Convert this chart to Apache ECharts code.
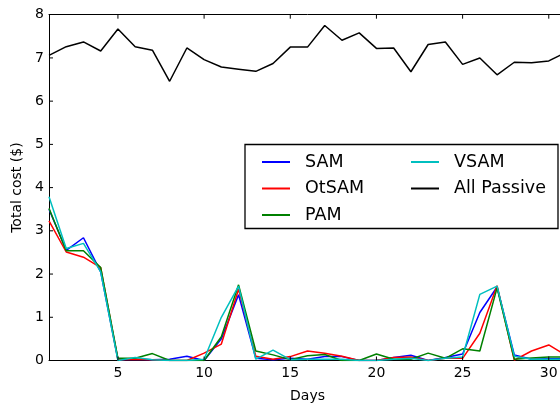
<!DOCTYPE html>
<html><head><meta charset="utf-8">
<script src="https://cdn.jsdelivr.net/npm/echarts@6/dist/echarts.min.js"></script>
<style>html,body{margin:0;padding:0;overflow:hidden;width:560px;height:410px;background:#fff}#c{width:580px;height:410px}</style>
</head><body><div id="c"></div>
<script>
const days = Array.from({length:31},(_, i)=>i+1);
const xTicks = [5,10,15,20,25,30];
const yTicks = [1,2,3,4,5,6,7];
const sam    = [3.50,2.55,2.84,2.05,0.02,0.03,0.02,0.03,0.10,0.00,0.50,1.52,0.05,0.02,0.05,0.03,0.09,0.09,0.00,0.00,0.07,0.12,0.00,0.07,0.15,1.11,1.70,0.13,0.03,0.04,0.04];
const otsam  = [3.23,2.51,2.39,2.15,0.02,0.03,0.02,0.00,0.00,0.17,0.38,1.65,0.10,0.03,0.09,0.22,0.17,0.10,0.00,0.00,0.07,0.08,0.00,0.05,0.05,0.63,1.73,0.01,0.22,0.36,0.12];
const pam    = [3.52,2.54,2.54,2.15,0.05,0.05,0.16,0.00,0.00,0.00,0.55,1.75,0.22,0.13,0.02,0.11,0.14,0.00,0.00,0.15,0.03,0.03,0.17,0.05,0.27,0.22,1.68,0.03,0.06,0.08,0.08];
const vsam   = [3.79,2.59,2.71,2.05,0.00,0.07,0.02,0.00,0.00,0.03,1.00,1.72,0.03,0.24,0.02,0.03,0.03,0.03,0.00,0.00,0.03,0.05,0.00,0.05,0.08,1.53,1.72,0.10,0.03,0.03,0.03];
const passive= [7.06,7.26,7.37,7.16,7.67,7.26,7.18,6.46,7.23,6.96,6.79,6.74,6.69,6.87,7.25,7.25,7.75,7.41,7.58,7.22,7.23,6.68,7.31,7.37,6.85,7.00,6.61,6.90,6.89,6.93,7.13];

const names = ['SAM','OtSAM','PAM','VSAM','All Passive'];
const colors = ['#0000ff','#ff0000','#008000','#00bfbf','#000000'];
const datas = [sam, otsam, pam, vsam, passive];
const font = 'DejaVu Sans';
const X_MIN = 1, X_MAX = 31, Y_MIN = 0, Y_MAX = 8;
const TICK = 4;

const chart = echarts.init(document.getElementById('c'));

function tickLine(x1,y1,x2,y2){
  return {type:'line', shape:{x1:x1,y1:y1,x2:x2,y2:y2}, style:{stroke:'#000', lineWidth:1}, silent:true};
}

chart.setOption({
  animation:false,
  grid:{left:49, top:14.7, right:14, bottom:49.5},
  xAxis:[{
    type:'value', min:X_MIN, max:X_MAX,
    name:'Days', nameLocation:'middle', nameGap:29,
    nameTextStyle:{fontFamily:font, fontSize:14, color:'#000'},
    axisLine:{show:true, lineStyle:{color:'#000'}},
    axisTick:{show:false},
    axisLabel:{customValues:xTicks, fontFamily:font, fontSize:14, color:'#000', margin:6},
    splitLine:{show:false}
  },{
    type:'value', min:X_MIN, max:X_MAX, position:'top',
    axisLine:{show:true, lineStyle:{color:'#000'}},
    axisTick:{show:false},
    axisLabel:{show:false},
    splitLine:{show:false}
  }],
  yAxis:[{
    type:'value', min:Y_MIN, max:Y_MAX, interval:1,
    name:'Total cost ($)', nameLocation:'middle', nameGap:24,
    nameTextStyle:{fontFamily:font, fontSize:14, color:'#000'},
    axisLine:{show:true, lineStyle:{color:'#000'}},
    axisTick:{show:false},
    axisLabel:{fontFamily:font, fontSize:14, color:'#000', margin:5},
    splitLine:{show:false}
  }],
  legend:[{
    data:['SAM','OtSAM','PAM'], orient:'vertical', left:257, top:148, z:20,
    itemWidth:28, itemHeight:2, itemGap:8.5, icon:'rect',
    textStyle:{fontFamily:font, fontSize:17.5, color:'#000', lineHeight:18, padding:[0,0,0,10]}
  },{
    data:['VSAM','All Passive'], orient:'vertical', left:406, top:148, z:20,
    itemWidth:28, itemHeight:2, itemGap:8.5, icon:'rect',
    textStyle:{fontFamily:font, fontSize:17.5, color:'#000', lineHeight:18, padding:[0,0,0,10]}
  }],
  graphic:[{type:'rect', shape:{x:245, y:144.5, width:313, height:84}, style:{fill:'#fff', stroke:'#000', lineWidth:1.3}, z:10}],
  series: names.map((n,i)=>({
    name:n, type:'line', xAxisIndex:0, yAxisIndex:0,
    data: days.map((d,j)=>[d, datas[i][j]]),
    showSymbol:false, symbol:'none',
    lineStyle:{color:colors[i], width:1.5}, itemStyle:{color:colors[i]}
  })).concat([{
    name:'xticks', type:'custom', xAxisIndex:0, yAxisIndex:0, silent:true, clip:false, z:5,
    data: xTicks.map(v=>[v, Y_MIN]),
    renderItem:function(params, api){
      const b = api.coord([api.value(0), Y_MIN]);
      const t = api.coord([api.value(0), Y_MAX]);
      return {type:'group', children:[
        tickLine(b[0], b[1], b[0], b[1]-TICK),
        tickLine(t[0], t[1], t[0], t[1]+TICK)
      ]};
    }
  },{
    name:'yticks', type:'custom', xAxisIndex:0, yAxisIndex:0, silent:true, clip:false, z:5,
    data: yTicks.map(v=>[X_MIN, v]),
    renderItem:function(params, api){
      const p = api.coord([X_MIN, api.value(1)]);
      return tickLine(p[0], p[1], p[0]+TICK, p[1]);
    }
  }])
});
</script></body></html>
